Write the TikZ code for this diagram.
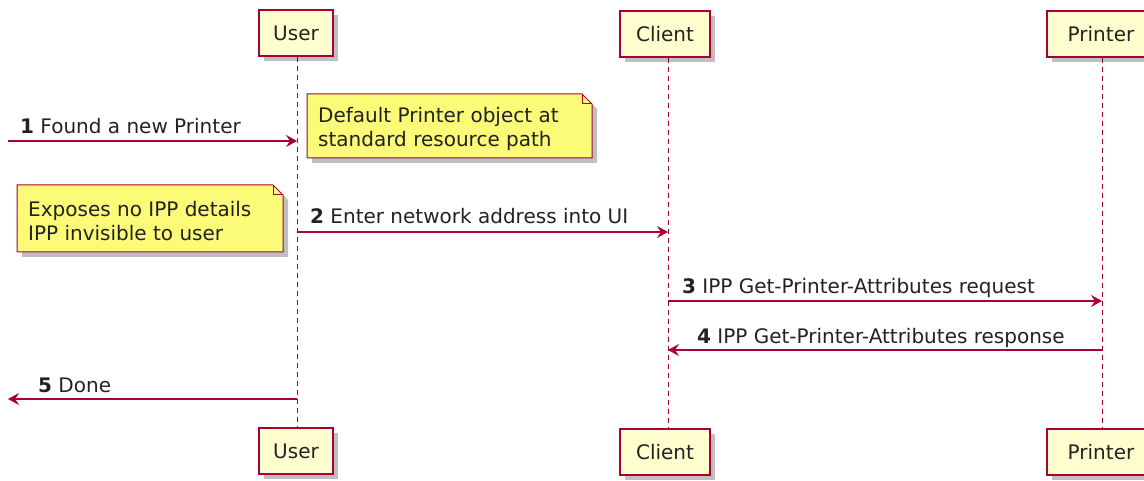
\documentclass[tikz,border=0pt]{standalone}
\usepackage{fontspec}
\setmainfont{DejaVu Sans}
\usetikzlibrary{arrows.meta,backgrounds}
\definecolor{pborder}{HTML}{A80036}
\definecolor{pfill}{HTML}{FEFECE}
\definecolor{nfill}{HTML}{FBFB77}
\definecolor{txt}{HTML}{222222}
\tikzset{
  x=1pt,y=-1pt,
  every node/.style={font=\fontsize{20}{24}\selectfont, text=txt},
  part/.style={draw=pborder, fill=pfill, line width=1.3pt, minimum height=46pt, inner sep=0pt},
  partshadow/.style={fill=black, opacity=0.25},
  life/.style={draw=pborder, line width=0.9pt, dash pattern=on 5pt off 4pt},
  msg/.style={draw=pborder, line width=1.1pt, -{Stealth[length=11pt,width=12pt,inset=4pt]}},
  lbl/.style={anchor=base west, inner sep=0pt},
  notebox/.style={align=left, inner sep=0pt, anchor=west},
  noteshape/.style={draw=pborder, fill=nfill, line width=1pt},
}
\begin{document}
\begin{tikzpicture}
\useasboundingbox (0,0) rectangle (1144,481);
% participants shadows
\foreach \cx/\w/\cy in {296/74/33, 665/90/34, 1101/108/34, 296/74/451, 665/90/452, 1101/108/452}{
  \fill[partshadow] (\cx-\w/2+5,\cy-23+5) rectangle (\cx+\w/2+5,\cy+23+5);
}
\node[part, minimum width=74pt] (ut) at (296,33) {User};
\node[part, minimum width=90pt] (ct) at (665,34) {Client};
\node[part, minimum width=108pt] (pt) at (1101,34) {Printer};
\node[part, minimum width=74pt] (ub) at (296,451) {User};
\node[part, minimum width=90pt] (cb) at (665,452) {Client};
\node[part, minimum width=108pt] (pb) at (1101,452) {Printer};
% lifelines
\begin{scope}[on background layer]
\draw[life] (ut.south -| 297,0) -- (ub.north -| 297,0);
\draw[life] (ct.south -| 668,0) -- (cb.north -| 668,0);
\draw[life] (pt.south -| 1102,0) -- (pb.north -| 1102,0);
\end{scope}
% coordinates on lifelines
\coordinate (s1) at (8,141);   \coordinate (u1) at (297,141);
\coordinate (u2) at (297,232); \coordinate (c2) at (668,232);
\coordinate (c3) at (668,301); \coordinate (p3) at (1102,301);
\coordinate (p4) at (1102,350);\coordinate (c4) at (668,350);
\coordinate (u5) at (297,399); \coordinate (s5) at (8,399);
% messages
\draw[msg] (s1) -- (u1);
\node[lbl] (l1) at (20,134) {\textbf{1} Found a new Printer};
\draw[msg] (u2) -- (c2);
\node[lbl] (l2) at (310,224) {\textbf{2} Enter network address into UI};
\draw[msg] (c3) -- (p3);
\node[lbl] (l3) at (682,294) {\textbf{3} IPP Get-Printer-Attributes request};
\draw[msg] (p4) -- (c4);
\node[lbl] (l4) at (697,343) {\textbf{4} IPP Get-Printer-Attributes response};
\draw[msg] (u5) -- (s5);
\node[lbl] (l5) at (38,392) {\textbf{5} Done};
% notes
\node[notebox] (n1) at (318,129) {Default Printer object at\\standard resource path};
\node[notebox] (n2) at (28,221) {Exposes no IPP details\\IPP invisible to user};
\begin{scope}[on background layer]
\fill[partshadow] (312,99) -- (587,99) -- (597,109) -- (597,163) -- (312,163) -- cycle;
\filldraw[noteshape] (307,94) -- (582,94) -- (592,104) -- (592,158) -- (307,158) -- cycle;
\draw[pborder, line width=1pt] (582,94) |- (592,104);
\fill[partshadow] (22,190) -- (278,190) -- (288,200) -- (288,257) -- (22,257) -- cycle;
\filldraw[noteshape] (17,185) -- (273,185) -- (283,195) -- (283,252) -- (17,252) -- cycle;
\draw[pborder, line width=1pt] (273,185) |- (283,195);
\end{scope}
\end{tikzpicture}
\end{document}
